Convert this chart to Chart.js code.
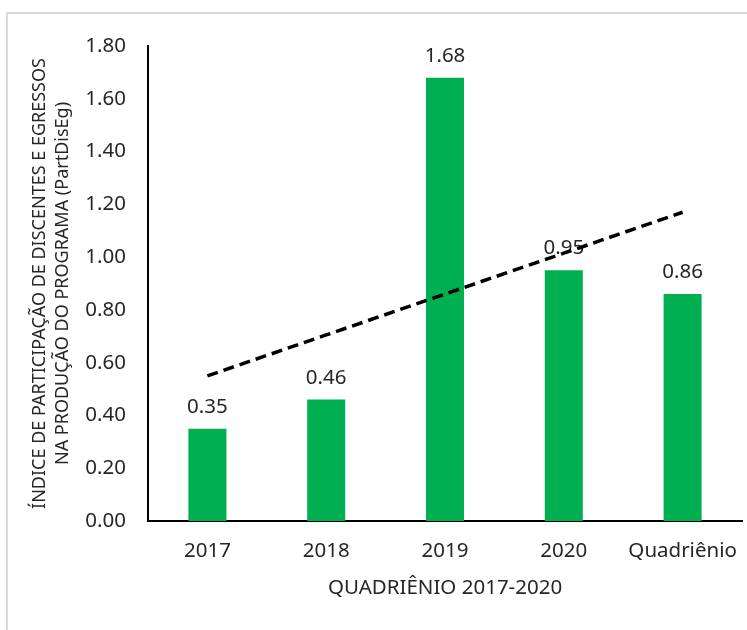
<!DOCTYPE html>
<html><head><meta charset="utf-8">
<script src="https://cdn.jsdelivr.net/npm/chart.js@4"></script>
<style>
html,body{margin:0;padding:0;background:#fff;}
#wrap{position:relative;width:747px;height:630px;overflow:hidden;background:#fff;}
#frame{position:absolute;left:6px;top:12px;width:800px;height:700px;border:2px solid #d9d9d9;box-sizing:border-box;}
canvas{position:absolute;left:0;top:0;}
</style></head><body>
<div id="wrap"><div id="frame"></div><canvas id="c" width="747" height="630"></canvas></div>
<script>
const categories = ['2017', '2018', '2019', '2020', 'Quadriênio'];
const values = [0.35, 0.46, 1.68, 0.95, 0.86];
const trendValues = [0.55, 0.705, 0.86, 1.015, 1.17];
const yTickValues = [0, 0.2, 0.4, 0.6, 0.8, 1.0, 1.2, 1.4, 1.6, 1.8];
const yTitle = ['ÍNDICE DE PARTICIPAÇÃO DE DISCENTES E EGRESSOS', 'NA PRODUÇÃO DO PROGRAMA (PartDisEg)'];
const xTitle = 'QUADRIÊNIO 2017-2020';

const FONT = "'Noto Sans', 'Open Sans', sans-serif";
const TXT = '#262626';

const labelPlugin = {
  id: 'barLabels',
  afterDatasetDraw(chart, args) {
    if (args.index !== 0) return;
    const ctx = chart.ctx;
    ctx.save();
    ctx.font = '20.5px ' + FONT;
    ctx.fillStyle = TXT;
    ctx.textAlign = 'center';
    ctx.textBaseline = 'alphabetic';
    args.meta.data.forEach((bar, i) => {
      ctx.fillText(values[i].toFixed(2), bar.x, bar.y - 16);
    });
    ctx.restore();
  }
};

new Chart(document.getElementById('c'), {
  type: 'bar',
  data: {
    labels: categories,
    datasets: [
      {
        type: 'bar',
        data: values,
        backgroundColor: '#00B050',
        borderWidth: 0,
        barPercentage: 0.32,
        categoryPercentage: 1,
        order: 1
      },
      {
        type: 'line',
        data: trendValues,
        borderColor: '#000000',
        borderWidth: 3.5,
        borderDash: [11, 6],
        pointRadius: 0,
        fill: false,
        tension: 0,
        order: 0
      }
    ]
  },
  options: {
    responsive: false,
    animation: false,
    events: [],
    layout: { padding: { top: 46, right: 5, left: 0, bottom: 0 } },
    plugins: { legend: { display: false }, tooltip: { enabled: false } },
    scales: {
      x: {
        offset: true,
        grid: { display: false, drawTicks: false },
        border: { display: true, color: '#000000', width: 2 },
        ticks: { color: TXT, font: { family: FONT, size: 20.5 }, padding: 18, maxRotation: 0, autoSkip: false },
        title: { display: true, text: xTitle, color: TXT, font: { family: FONT, size: 20.5 }, padding: { top: 0, bottom: 30 } },
        afterFit(s) { s.height = 109; s.paddingLeft = 0; s.paddingRight = 0; }
      },
      y: {
        min: 0,
        max: 1.8,
        afterBuildTicks(s) { s.ticks = yTickValues.map(v => ({ value: v })); },
        grid: { display: false, drawTicks: false },
        border: { display: true, color: '#000000', width: 2 },
        ticks: { color: TXT, font: { family: FONT, size: 20.5 }, padding: 22, callback: v => Number(v).toFixed(2) },
        title: { display: true, text: yTitle, color: TXT, font: { family: FONT, size: 18, lineHeight: 1.28 }, padding: { top: 28, bottom: 0 } },
        afterFit(s) { s.width = 148; s.paddingTop = 0; s.paddingBottom = 0; }
      }
    }
  },
  plugins: [labelPlugin]
});
</script>
</body></html>
